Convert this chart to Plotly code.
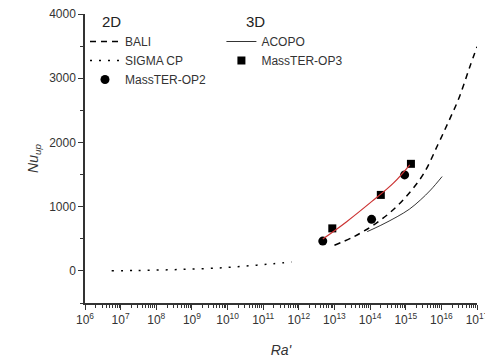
import plotly.graph_objects as go

# ---- data ----
sigma_ra = [5.6e6, 3.2e7, 4.7e8, 7.6e9, 6.6e10, 2.0e11, 6.3e11]
sigma_nu = [2, 7, 22, 50, 89, 112, 140]

bali_ra = [1.0e13, 3.16e13, 1.0e14, 3.16e14, 1.0e15, 3.16e15, 7.9e15, 1.58e16, 3.16e16, 6.3e16, 1.0e17]
bali_nu = [400, 520, 680, 880, 1150, 1510, 1960, 2320, 2700, 3180, 3490]

acopo_ra = [8.3e13, 2.0e14, 5.75e14, 1.26e15, 2.57e15, 5.0e15, 1.05e16]
acopo_nu = [611, 710, 844, 960, 1103, 1260, 1469]

op2_ra = [4.7e12, 1.1e14, 9.3e14]
op2_nu = [464, 803, 1495]

op3_ra = [8.7e12, 2.0e14, 1.4e15]
op3_nu = [662, 1183, 1667]

fit_ra = [4.7e12, 2.2e13, 1.1e14, 4.5e14, 1.3e15]
fit_nu = [495, 766, 1078, 1366, 1652]

xtick_exp = list(range(6, 18))
ytick_vals = [0, 1000, 2000, 3000, 4000]

FONT = "Arial, Liberation Sans, sans-serif"
AX = "#333333"

fig = go.Figure()
fig.add_trace(go.Scatter(x=bali_ra, y=bali_nu, mode="lines", name="BALI",
                         line=dict(color="black", width=1.5, dash="6px,5px", shape="spline"),
                         legend="legend"))
fig.add_trace(go.Scatter(x=sigma_ra, y=sigma_nu, mode="lines", name="SIGMA CP",
                         line=dict(color="black", width=1.5, dash="2px,7px", shape="spline"),
                         legend="legend"))
fig.add_trace(go.Scatter(x=op2_ra, y=op2_nu, mode="markers", name="MassTER-OP2",
                         marker=dict(symbol="circle", size=9, color="black"),
                         legend="legend"))
fig.add_trace(go.Scatter(x=acopo_ra, y=acopo_nu, mode="lines", name="ACOPO",
                         line=dict(color="black", width=0.8, shape="spline"),
                         legend="legend2"))
fig.add_trace(go.Scatter(x=op3_ra, y=op3_nu, mode="markers", name="MassTER-OP3",
                         marker=dict(symbol="square", size=8, color="black"),
                         legend="legend2"))
fig.add_trace(go.Scatter(x=fit_ra, y=fit_nu, mode="lines",
                         line=dict(color="#cc3333", width=1.2, shape="spline"),
                         showlegend=False))

fig.update_layout(
    width=485, height=358,
    margin=dict(l=85, r=8, t=14, b=55, autoexpand=False),
    paper_bgcolor="white", plot_bgcolor="white",
    font=dict(family=FONT, size=12, color="#333333"),
    legend=dict(x=0.0, y=0.955, xanchor="left", yanchor="top",
                bgcolor="rgba(0,0,0,0)", font=dict(size=12),
                tracegroupgap=0, itemwidth=30),
    legend2=dict(x=0.348, y=0.955, xanchor="left", yanchor="top",
                 bgcolor="rgba(0,0,0,0)", font=dict(size=12),
                 tracegroupgap=0, itemwidth=30),
    showlegend=True,
)
fig.update_xaxes(
    type="log", range=[6, 17], automargin=False,
    tickvals=[10 ** e for e in xtick_exp],
    ticktext=[f"10<sup>{e}</sup>" for e in xtick_exp],
    ticklabeloverflow="allow",
    ticks="outside", ticklen=5, tickwidth=1.2, tickcolor=AX,
    minor=dict(ticks="outside", ticklen=3, tickcolor=AX, dtick="D1", showgrid=False),
    showline=True, linecolor=AX, linewidth=1.5, showgrid=False, zeroline=False,
    tickfont=dict(size=12, color="#333333"),
    title=dict(text="<i>Ra'</i>", font=dict(size=14, color="#333333"), standoff=19),
)
fig.update_yaxes(
    range=[-500, 4000], automargin=False,
    tickvals=ytick_vals,
    ticks="outside", ticklen=5, tickwidth=1.2, tickcolor=AX,
    minor=dict(ticks="outside", ticklen=3, tickcolor=AX, dtick=500, showgrid=False),
    showline=True, linecolor=AX, linewidth=1.5, showgrid=False, zeroline=False,
    tickfont=dict(size=12, color="#333333"),
    title=dict(text="<i>Nu</i><sub><i>up</i></sub>", font=dict(size=14, color="#333333"), standoff=7),
)
fig.add_annotation(text="2D", xref="paper", yref="paper", x=0.039, y=0.975,
                   xanchor="left", yanchor="middle", showarrow=False,
                   font=dict(size=15, color="#222222"))
fig.add_annotation(text="3D", xref="paper", yref="paper", x=0.405, y=0.975,
                   xanchor="left", yanchor="middle", showarrow=False,
                   font=dict(size=15, color="#222222"))

fig.write_html("out.html")
